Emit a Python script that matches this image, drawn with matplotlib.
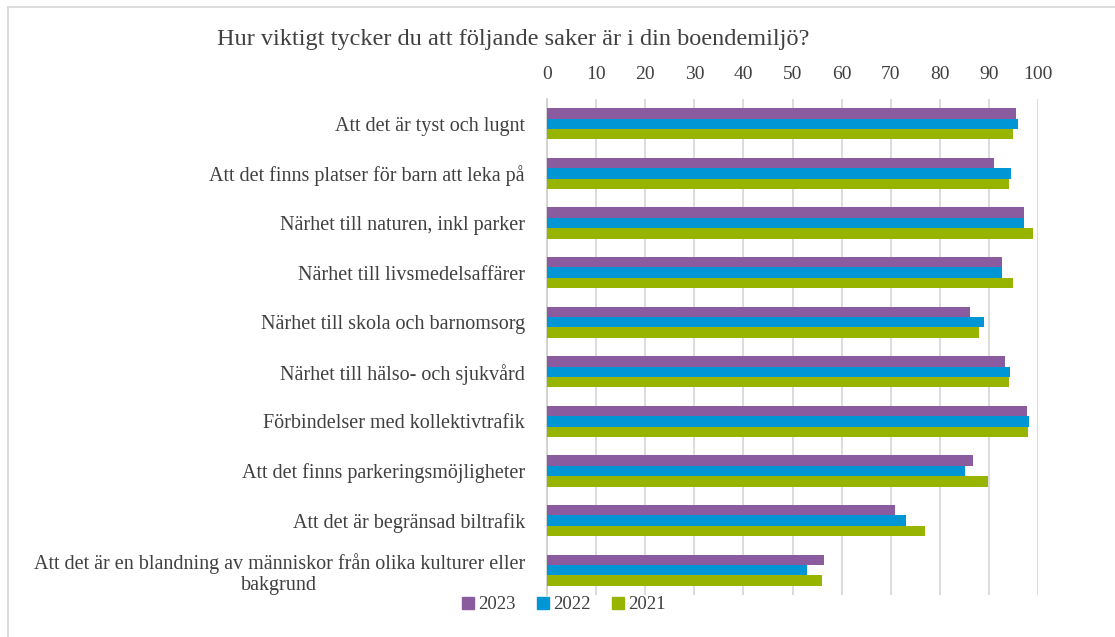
import numpy as np
import matplotlib.pyplot as plt
from matplotlib.lines import Line2D

plt.rcParams['font.family'] = ['Liberation Serif', 'DejaVu Serif']

title = 'Hur viktigt tycker du att följande saker är i din boendemiljö?'
categories = [
    'Att det är tyst och lugnt',
    'Att det finns platser för barn att leka på',
    'Närhet till naturen, inkl parker',
    'Närhet till livsmedelsaffärer',
    'Närhet till skola och barnomsorg',
    'Närhet till hälso- och sjukvård',
    'Förbindelser med kollektivtrafik',
    'Att det finns parkeringsmöjligheter',
    'Att det är begränsad biltrafik',
    'Att det är en blandning av människor från olika kulturer eller\nbakgrund',
]
v2023 = [95.6, 91.1, 97.1, 92.6, 86.1, 93.3, 97.8, 86.7, 70.9, 56.4]
v2022 = [96.0, 94.4, 97.1, 92.6, 89.0, 94.2, 98.1, 85.1, 73.1, 52.9]
v2021 = [94.9, 94.0, 99.0, 94.9, 88.0, 94.0, 97.9, 89.9, 77.0, 55.9]
years = ['2023', '2022', '2021']
colors = ['#8B5BA0', '#0096D6', '#97B400']
txt = '#404040'

fig = plt.figure(figsize=(11.15, 6.37), dpi=100)
ax = fig.add_axes([0.4906, 0.0659, 0.4404, 0.7787])

y = np.arange(len(categories))
h = 0.21
for i, (vals, c) in enumerate(zip([v2023, v2022, v2021], colors)):
    ax.barh(y + (i - 1) * h, vals, height=h, color=c, label=years[i], zorder=3)

ax.set_xlim(0, 100)
ax.set_ylim(len(categories) - 0.5, -0.5)
ax.set_xticks(np.arange(0, 101, 10))
ax.xaxis.tick_top()
ax.tick_params(axis='x', length=0, pad=11.5, labelsize=14, labelcolor=txt)
ax.tick_params(axis='y', length=0, pad=16, labelsize=14.5, labelcolor=txt)
ax.set_yticks(y)
ax.set_yticklabels(categories)
for lbl in ax.get_yticklabels():
    lbl.set_multialignment('center')
ax.grid(axis='x', color='#D9D9D9', lw=1.3, zorder=0)
for s in ['top', 'right', 'bottom']:
    ax.spines[s].set_visible(False)
ax.spines['left'].set_color('#D0D0D0')
ax.spines['left'].set_linewidth(1.3)

fig.text(0.46, 0.938, title, ha='center', va='center', fontsize=17.5, color=txt)

handles = [Line2D([], [], marker='s', ls='', color=c, markersize=8) for c in colors]
fig.legend(handles, years, loc='center', bbox_to_anchor=(0.505, 0.051), ncol=3,
           frameon=False, fontsize=13.5, labelcolor=txt, handletextpad=0.1,
           columnspacing=1.1, handlelength=0.8)

# outer chart border (top and left)
fig.add_artist(Line2D([0.007, 1.0], [0.989, 0.989], color='#D9D9D9', lw=1.3))
fig.add_artist(Line2D([0.007, 0.007], [0.0, 0.989], color='#D9D9D9', lw=1.3))

fig.savefig('out.png', dpi=100, facecolor='white')
